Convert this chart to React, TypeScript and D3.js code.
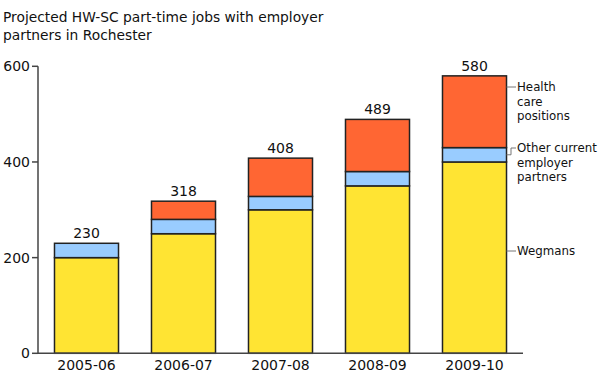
import React from "react";
import * as d3 from "d3";

const categories = ["2005-06", "2006-07", "2007-08", "2008-09", "2009-10"];
const wegmans = [200, 250, 300, 350, 400];
const otherPartners = [30, 30, 28, 30, 30];
const totals = [230, 318, 408, 489, 580];
const healthCare = totals.map((t, i) => t - wegmans[i] - otherPartners[i]);
const yTicks = [0, 200, 400, 600];
const seriesNames = ["Wegmans", "Other current employer partners", "Health care positions"];
const seriesColors = ["#FFE433", "#99CCFF", "#FF6633"];

const W = 600;
const H = 383;
const FONT = "'DejaVu Sans', Verdana, sans-serif";

export default function App() {
  const x = d3.scaleBand<string>().domain(categories).range([38, 523]).paddingInner(0.34).paddingOuter(0.17);
  const y = d3.scaleLinear().domain([0, 600]).range([353.3, 66.3]);

  const rows = categories.map((c, i) => ({
    cat: c,
    Wegmans: wegmans[i],
    "Other current employer partners": otherPartners[i],
    "Health care positions": healthCare[i],
  }));
  const stack = d3.stack<any>().keys(seriesNames)(rows);

  const last = categories.length - 1;
  const lastX = (x(categories[last]) as number) + x.bandwidth();
  const mid = (si: number) => y((stack[si][last][0] + stack[si][last][1]) / 2);

  return (
    <svg width={W} height={H} style={{ position: "absolute", left: 0, top: 0 }} fontFamily={FONT}>
      <rect width={W} height={H} fill="#fff" />
      <text x={3} y={22} fontSize={13.8} fill="#111">
        <tspan x={3}>Projected HW-SC part-time jobs with employer</tspan>
        <tspan x={3} dy={18}>partners in Rochester</tspan>
      </text>

      {stack.map((s, si) =>
        s.map((d, i) => (
          <rect
            key={`${si}-${i}`}
            x={x(categories[i])}
            y={y(d[1])}
            width={x.bandwidth()}
            height={Math.max(0, y(d[0]) - y(d[1]))}
            fill={seriesColors[si]}
            stroke="#222"
            strokeWidth={1.5}
          />
        ))
      )}

      {totals.map((t, i) => (
        <text
          key={i}
          x={(x(categories[i]) as number) + x.bandwidth() / 2}
          y={y(t) - 5}
          textAnchor="middle"
          fontSize={14}
          fill="#111"
        >
          {t}
        </text>
      ))}

      {/* y axis */}
      <line x1={38} x2={38} y1={y(600)} y2={y(0)} stroke="#444" strokeWidth={1.5} />
      {yTicks.map((t) => (
        <g key={t}>
          <line x1={32} x2={38} y1={y(t)} y2={y(t)} stroke="#444" strokeWidth={1.5} />
          <text x={30} y={y(t) + 5} textAnchor="end" fontSize={14} fill="#111">
            {t}
          </text>
        </g>
      ))}
      {/* x axis */}
      <line x1={38} x2={523} y1={y(0)} y2={y(0)} stroke="#444" strokeWidth={1.5} />
      {categories.map((c) => (
        <text
          key={c}
          x={(x(c) as number) + x.bandwidth() / 2}
          y={370}
          textAnchor="middle"
          fontSize={14}
          fill="#111"
        >
          {c}
        </text>
      ))}

      {/* series labels */}
      <g fontSize={11.8} fill="#111">
        <line x1={lastX} x2={516} y1={87} y2={87} stroke="#777" />
        <text x={517} y={91}>
          <tspan x={517}>Health</tspan>
          <tspan x={517} dy={14.5}>care</tspan>
          <tspan x={517} dy={14.5}>positions</tspan>
        </text>
        <polyline
          points={`${lastX},${mid(1)} 511,${mid(1)} 511,148 516,148`}
          fill="none"
          stroke="#777"
        />
        <text x={517} y={152}>
          <tspan x={517}>Other current</tspan>
          <tspan x={517} dy={14.5}>employer</tspan>
          <tspan x={517} dy={14.5}>partners</tspan>
        </text>
        <line x1={lastX} x2={516} y1={251} y2={251} stroke="#777" />
        <text x={517} y={255}>Wegmans</text>
      </g>
    </svg>
  );
}
